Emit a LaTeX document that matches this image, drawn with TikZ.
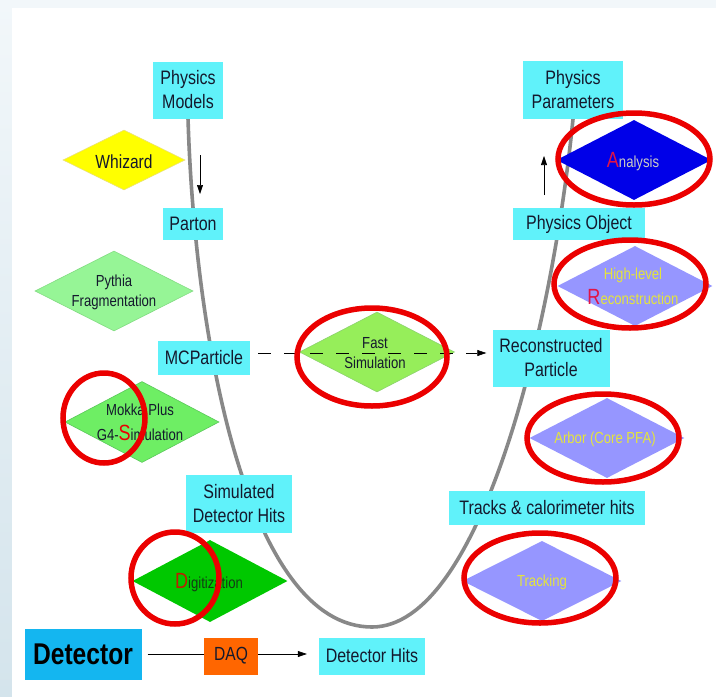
\documentclass[tikz,border=0pt]{standalone}
\usepackage{fontspec}
\setmainfont[FakeStretch=0.82]{Liberation Sans}
\usetikzlibrary{shapes.geometric,arrows.meta}
\newcommand\fsz[2]{\fontsize{#1}{#2}\selectfont}
\definecolor{cyanbox}{RGB}{96,242,250}
\definecolor{boxtext}{RGB}{20,25,45}
\definecolor{detblue}{RGB}{20,182,240}
\definecolor{daqorange}{RGB}{255,102,0}
\definecolor{whizy}{RGB}{255,255,0}
\definecolor{pythg}{RGB}{150,245,150}
\definecolor{mokkag}{RGB}{110,238,100}
\definecolor{fastg}{RGB}{150,238,90}
\definecolor{digig}{RGB}{0,200,0}
\definecolor{anablue}{RGB}{0,0,232}
\definecolor{lav}{RGB}{150,150,255}
\definecolor{lavtext}{RGB}{228,228,60}
\definecolor{anatext}{RGB}{205,205,195}
\definecolor{hired}{RGB}{235,0,0}
\definecolor{letred}{RGB}{225,20,70}
\definecolor{curvegray}{RGB}{136,136,136}
\definecolor{bgstrip}{RGB}{242,247,250}
\begin{document}
\begin{tikzpicture}[x=1pt,y=-1pt,
  box/.style={fill=cyanbox, inner sep=0pt, align=center, text=boxtext, font=\fsz{19.5}{24}},
  dia/.style={diamond, inner sep=0pt, aspect=2},
  dtext/.style={align=center, inner sep=0pt, font=\fsz{16}{20}},
  hilite/.style={draw=hired, line width=5.5pt},
  smallarrow/.style={-{Triangle[length=9pt,width=6pt]}, line width=0.6pt, black}
]
\useasboundingbox (0,0) rectangle (716,697);
% background
\fill[bgstrip] (0,0) rectangle (716,697);
\shade[top color=bgstrip, bottom color={rgb,255:red,212;green,228;blue,236}] (0,0) rectangle (12,697);
\fill[white] (12,8) rectangle (716,697);

% anchor positions of the cyan boxes (coordinates first, curve behind)
\coordinate (pmc) at (188,90);
\coordinate (ppc) at (573,90);
\coordinate (ubot) at (372,627);
\draw[curvegray, line width=3.6pt] ([yshift=-28pt]pmc) .. controls (195,350) and (250,627) .. (ubot)
  .. controls (480,627) and (552,330) .. ([yshift=-29pt]ppc);

% cyan boxes
\node[box, minimum width=70pt, minimum height=57pt] (pm) at (pmc) {Physics\\Models};
\node[box, minimum width=60pt, minimum height=32pt] (parton) at (193,224) {Parton};
\node[box, minimum width=92pt, minimum height=34pt] (mcp) at (204,358) {MCParticle};
\node[box, minimum width=106pt, minimum height=58pt] (sdh) at (239,504) {Simulated\\Detector Hits};
\node[box, minimum width=106pt, minimum height=37pt] (dh) at (372,656) {Detector Hits};
\node[box, minimum width=100pt, minimum height=58pt] (pp) at (ppc) {Physics\\Parameters};
\node[box, minimum width=132pt, minimum height=32pt] (po) at (579,224) {Physics Object};
\node[box, minimum width=117pt, minimum height=57pt] (rp) at (551,358) {Reconstructed\\Particle};
\node[box, minimum width=196pt, minimum height=34pt] (tch) at (547,508) {Tracks \& calorimeter hits};

% bottom row
\node[fill=detblue, inner sep=0pt, minimum width=117pt, minimum height=51pt, font=\fsz{30}{34}\bfseries, text=black] (det) at (83,654) {Detector};
\node[fill=daqorange, inner sep=0pt, minimum width=54pt, minimum height=37pt, font=\fsz{19}{24}, text=boxtext] (daq) at (231,656) {DAQ};
\draw[line width=0.6pt] ([xshift=6pt]det.east) -- (det.east -| daq.west);
\draw[smallarrow] (det.east -| daq.east) -- ([xshift=-12pt]det.east -| dh.west);

% left diamonds
\node[dia, fill=whizy, draw={rgb,255:red,235;green,225;blue,120}, line width=0.6pt, minimum width=122pt, minimum height=60pt] (whiz) at (124,160) {};
\node[dtext, font=\fsz{19}{24}, text=boxtext] (whiz-t) at (124,162) {Whizard};
\node[dia, fill=pythg, draw={rgb,255:red,130;green,220;blue,130}, line width=0.6pt, minimum width=158pt, minimum height=80pt] (pyth) at (114,291) {};
\node[dtext, text=boxtext] (pyth-t) at (114,292) {Pythia\\Fragmentation};
\node[dia, fill=mokkag, draw={rgb,255:red,90;green,200;blue,90}, line width=0.6pt, minimum width=154pt, minimum height=81pt] (mokka) at (142,422) {};
\node[dtext, text=boxtext, font=\fsz{16}{25}] (mokka-t) at (140,422) {Mokka Plus\\G4-{\fsz{22}{25}\color{hired}S}imulation};
\node[dia, fill=digig, minimum width=155pt, minimum height=82pt] (digi) at (210,581) {};
\node[dtext, text={rgb,255:red,20;green,60;blue,20}] (digi-t) at (209,583) {{\fsz{22}{24}\color{rgb,255:red,190;green,30;blue,0}D}igitization};

% fast simulation
\node[dia, fill=fastg, draw={rgb,255:red,140;green,210;blue,110}, line width=0.6pt, minimum width=155pt, minimum height=80pt] (fast) at (377,352) {};
\node[dtext, text=boxtext] (fast-t) at (375,353) {Fast\\Simulation};
\draw[-{Triangle[length=9pt,width=6pt]}, line width=0.6pt, dash pattern=on 13pt off 13pt] ([xshift=8pt,yshift=5pt]mcp.east) -- ([xshift=-6pt,yshift=5pt]rp.west);

% right diamonds
\node[dia, fill=anablue, minimum width=155pt, minimum height=80pt] (ana) at (634,160) {};
\node[dtext, text=anatext] (ana-t) at (633,162) {{\fsz{22}{24}\color{letred}A}nalysis};
\node[dia, fill=lav, minimum width=155pt, minimum height=80pt] (hlr) at (635,286) {};
\node[dtext, text=lavtext, font=\fsz{16}{25}] (hlr-t) at (633,286) {High-level\\{\fsz{22}{25}\color{letred}R}econstruction};
\node[dia, fill=lav, minimum width=155pt, minimum height=80pt] (arbor) at (607,438) {};
\node[dtext, text=lavtext] (arbor-t) at (605,439) {Arbor (Core PFA)};
\node[dia, fill=lav, minimum width=159pt, minimum height=80pt] (track) at (542,581) {};
\node[dtext, text=lavtext] (track-t) at (542,582) {Tracking};

% small arrows beside the curve
\coordinate (da1) at (200,155);
\coordinate (da2) at (200,194);
\draw[smallarrow] (da1) -- (da2);
\coordinate (ua1) at (544,195);
\coordinate (ua2) at (544,156);
\draw[smallarrow] (ua1) -- (ua2);

% red highlight ellipses
\draw[hilite] (634,159) ellipse [x radius=76pt, y radius=46pt];
\draw[hilite] (630,284) ellipse [x radius=76pt, y radius=44pt];
\draw[hilite] (372,357) ellipse [x radius=75pt, y radius=49pt];
\draw[hilite] (104,418) ellipse [x radius=41pt, y radius=45pt];
\draw[hilite] (603,438) ellipse [x radius=76pt, y radius=44pt];
\draw[hilite] (175,578) ellipse [x radius=44pt, y radius=46pt];
\draw[hilite] (540,578) ellipse [x radius=76pt, y radius=45pt];
\end{tikzpicture}
\end{document}
